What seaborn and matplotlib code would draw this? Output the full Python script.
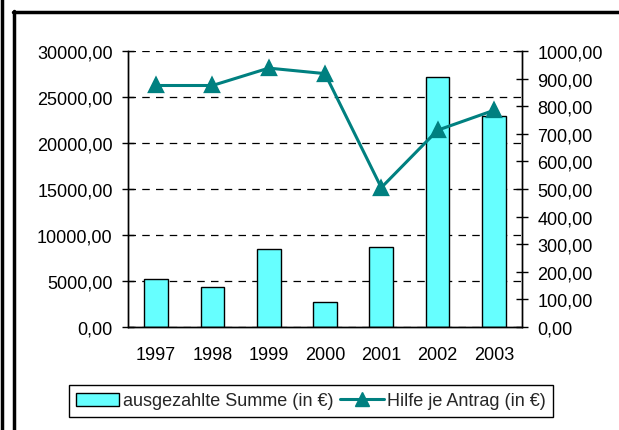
import matplotlib
matplotlib.use("Agg")
import matplotlib.pyplot as plt
import seaborn as sns
from matplotlib.patches import Patch
from matplotlib.lines import Line2D
from matplotlib.ticker import FuncFormatter, MultipleLocator

# data
years = ["1997", "1998", "1999", "2000", "2001", "2002", "2003"]
summe = [5200, 4400, 8500, 2700, 8700, 27150, 22900]
hilfe = [875, 875, 938, 918, 505, 713, 785]

bar_color = "#66FFFF"
line_color = "#008080"

sns.set_theme(style="white")
plt.rcParams["font.family"] = ["Liberation Sans", "DejaVu Sans"]
plt.rcParams["font.size"] = 13

fig = plt.figure(figsize=(6.19, 4.31), dpi=100)
ax = fig.add_axes([128 / 619, 1 - 328 / 431, 394 / 619, 276 / 431])

# bars on the left axis
sns.barplot(x=years, y=summe, color=bar_color, saturation=1, width=0.42,
            edgecolor="black", linewidth=1, ax=ax)

# line on the right axis
ax2 = ax.twinx()
sns.pointplot(x=years, y=hilfe, color=line_color, markers="^", linestyles="-",
              errorbar=None, markersize=10, linewidth=2.2, ax=ax2)

ax.set_xlim(-0.5, 6.5)
ax2.set_xlim(-0.5, 6.5)
ax.set_ylim(0, 30000)
ax2.set_ylim(0, 1000)
ax.yaxis.set_major_locator(MultipleLocator(5000))
ax2.yaxis.set_major_locator(MultipleLocator(100))

fmt = FuncFormatter(lambda v, p: f"{v:.2f}".replace(".", ","))
ax.yaxis.set_major_formatter(fmt)
ax2.yaxis.set_major_formatter(fmt)

# dashed grid
ax.grid(axis="y", color="black", linestyle=(0, (6, 5)), linewidth=0.9)
ax.set_axisbelow(True)
ax2.patch.set_visible(False)

for a in (ax, ax2):
    a.set_xlabel("")
    a.set_ylabel("")
    a.spines["top"].set_visible(False)
    for s in ("left", "right", "bottom"):
        a.spines[s].set_color("black")
        a.spines[s].set_linewidth(1)
    a.tick_params(axis="y", direction="inout", length=8, width=1,
                  color="black", pad=7, labelsize=13, labelcolor="black")
    a.tick_params(axis="x", length=0, pad=14, labelsize=13, labelcolor="black")

ax.tick_params(axis="y", left=True, right=False)
ax2.tick_params(axis="y", left=False, right=True)

# legend
handles = [
    Patch(facecolor=bar_color, edgecolor="black", linewidth=1),
    Line2D([], [], color=line_color, linewidth=2.2, marker="^", markersize=10),
]
labels = ["ausgezahlte Summe (in €)", "Hilfe je Antrag (in €)"]
leg = fig.legend(handles, labels, loc="center", bbox_to_anchor=(311 / 619, 1 - 402 / 431),
                 ncol=2, frameon=True, fancybox=False, edgecolor="black",
                 fontsize=13, handlelength=2.4, handletextpad=0.2,
                 columnspacing=0.4, borderpad=0.4, framealpha=1)
leg.get_frame().set_linewidth(1)

# outer frame lines
fig.add_artist(Line2D([1.5 / 619, 1.5 / 619], [0, 1], color="black", linewidth=2.5,
                      transform=fig.transFigure))
fig.add_artist(Line2D([13.5 / 619, 13.5 / 619], [0, 1 - 12 / 431], color="black",
                      linewidth=2.5, transform=fig.transFigure))
fig.add_artist(Line2D([12.5 / 619, 1], [1 - 13 / 431, 1 - 13 / 431], color="black",
                      linewidth=2.5, transform=fig.transFigure))

fig.savefig("out.png", dpi=100)
